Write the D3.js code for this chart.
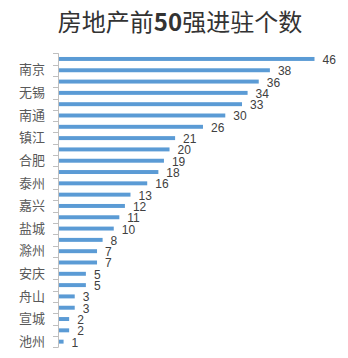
<!DOCTYPE html>
<html>
<head>
<meta charset="utf-8">
<script src="https://cdn.jsdelivr.net/npm/d3@7"></script>
<style>
  html, body { margin: 0; padding: 0; background: #fff; }
  svg { display: block; }
</style>
</head>
<body>
<svg id="chart" width="348" height="358"></svg>
<script>
// Cities, top to bottom
const cities = ["上海", "南京", "苏州", "无锡", "杭州", "南通", "宁波", "镇江", "常州", "合肥",
                "扬州", "泰州", "绍兴", "嘉兴", "湖州", "盐城", "金华", "滁州", "芜湖", "安庆",
                "台州", "舟山", "马鞍山", "宣城", "铜陵", "池州"];
// Number of top-50 developers present in each city
const counts = [46, 38, 36, 34, 33, 30, 26, 21, 20, 19, 18, 16, 13, 12, 11, 10, 8, 7, 7, 5, 5, 3, 3, 2, 2, 1];
const titleMain = ["房地产前", "50", "强进驻个数"];

const data = cities.map((c, i) => ({ city: c, value: counts[i] }));

const svg = d3.select("#chart");
const axisX = 58;

const x = d3.scaleLinear().domain([0, 46]).range([axisX, 314.5]);
const y = d3.scaleBand().domain(cities).range([53.3, 347.3])
  .paddingInner(0.65).paddingOuter(0.325);

// Title
const title = svg.append("text")
  .attr("x", 180).attr("y", 20)
  .attr("text-anchor", "middle")
  .attr("dominant-baseline", "central")
  .attr("font-family", "'Noto Sans CJK SC', sans-serif")
  .attr("font-size", 24)
  .attr("fill", "#333");
title.append("tspan").text(titleMain[0]);
title.append("tspan").attr("font-weight", "bold").text(titleMain[1]);
title.append("tspan").text(titleMain[2]);

// Bars
svg.append("g").selectAll("rect").data(data).join("rect")
  .attr("x", x(0))
  .attr("y", d => y(d.city))
  .attr("width", d => x(d.value) - x(0))
  .attr("height", y.bandwidth())
  .attr("fill", "#5b9bd5");

// Value labels
svg.append("g").selectAll("text").data(data).join("text")
  .attr("x", d => x(d.value) + 8)
  .attr("y", d => y(d.city) + y.bandwidth() / 2 + 1)
  .attr("dominant-baseline", "central")
  .attr("font-family", "'Liberation Sans', sans-serif")
  .attr("font-size", 12)
  .attr("fill", "#404040")
  .text(d => d.value);

// Category axis: labels on every second city, counted from the bottom
const n = cities.length;
const axis = d3.axisLeft(y)
  .tickSize(0)
  .tickPadding(13)
  .tickFormat((c, i) => ((n - 1 - i) % 2 === 0 ? c : ""));
const gAxis = svg.append("g").attr("transform", `translate(${axisX},0)`).call(axis);
gAxis.select(".domain").remove();
gAxis.selectAll("text")
  .attr("font-family", "'Noto Sans CJK SC', sans-serif")
  .attr("font-size", 13)
  .attr("fill", "#595959");

// Axis line and boundary ticks
const [y0, y1] = y.range();
svg.append("line")
  .attr("x1", axisX + 0.5).attr("x2", axisX + 0.5)
  .attr("y1", y0).attr("y2", y1)
  .attr("stroke", "#bfbfbf").attr("stroke-width", 1);
svg.append("g").selectAll("line").data(d3.range(n + 1)).join("line")
  .attr("x1", axisX - 5).attr("x2", axisX + 0.5)
  .attr("y1", i => Math.round(y0 + i * y.step()) + 0.5)
  .attr("y2", i => Math.round(y0 + i * y.step()) + 0.5)
  .attr("stroke", "#bfbfbf").attr("stroke-width", 1);
</script>
</body>
</html>
